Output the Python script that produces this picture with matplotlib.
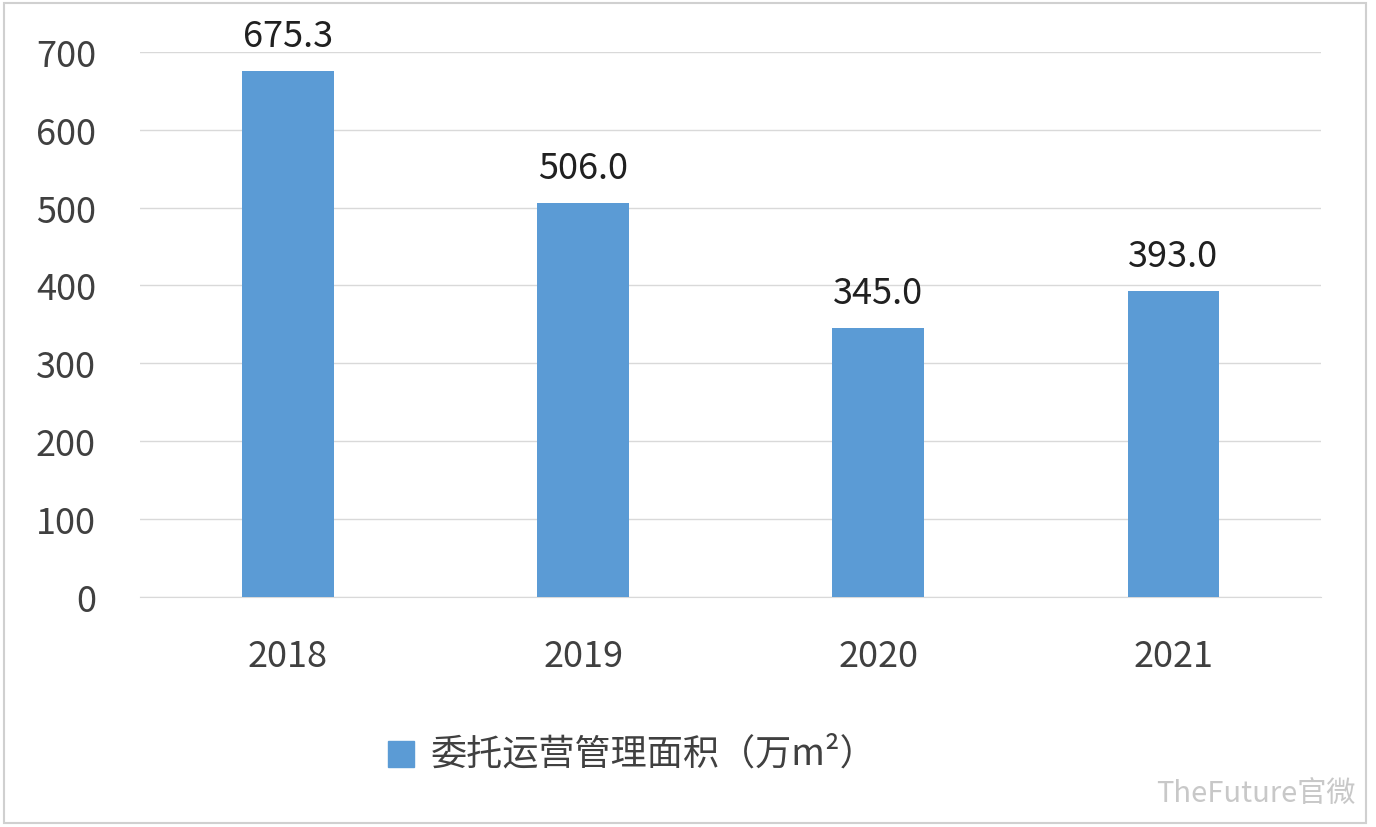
import matplotlib
matplotlib.use('Agg')
import matplotlib.pyplot as plt
from matplotlib.patches import Rectangle

plt.rcParams['font.family'] = ['Noto Sans CJK SC', 'DejaVu Sans']

years = ['2018', '2019', '2020', '2021']
area = [675.3, 506.0, 345.0, 393.0]
series_name = '委托运营管理面积（万m²）'
yticks = [0, 100, 200, 300, 400, 500, 600, 700]

bar_color = '#5B9BD5'
text_color = '#404040'

fig = plt.figure(figsize=(13.76, 8.28), dpi=100)
ax = fig.add_axes([0.102, 0.278, 0.858, 0.658])

x = range(len(years))
ax.bar(x, area, width=0.31, color=bar_color, zorder=3)
for xi, v in zip(x, area):
    ax.text(xi, v + 22, f'{v:.1f}', ha='center', va='bottom',
            fontsize=26, color='#202020')

ax.set_xlim(-0.5, len(years) - 0.5)
ax.set_ylim(0, 700)
ax.set_yticks(yticks)
ax.set_xticks(list(x))
ax.set_xticklabels(years)
ax.tick_params(axis='both', length=0, labelsize=26, labelcolor=text_color)
ax.tick_params(axis='x', pad=30)
ax.tick_params(axis='y', pad=32)
ax.grid(axis='y', color='#D9D9D9', linewidth=1, zorder=0)
for s in ['top', 'right', 'left']:
    ax.spines[s].set_visible(False)
ax.spines['bottom'].set_color('#D9D9D9')

# legend
fig.patches.append(Rectangle((0.282, 0.072), 0.019, 0.032, transform=fig.transFigure,
                             color=bar_color, figure=fig))
fig.text(0.313, 0.089, series_name, fontsize=26, color=text_color, va='center')

# watermark
fig.text(0.985, 0.04, 'TheFuture官微', fontsize=21, color='#C8C8C8',
         ha='right', va='center')

# frame
fig.patches.append(Rectangle((0.003, 0.005), 0.99, 0.99, transform=fig.transFigure,
                             fill=False, edgecolor='#D0D0D0', linewidth=1.5, figure=fig))

fig.savefig('out.png', dpi=100)
